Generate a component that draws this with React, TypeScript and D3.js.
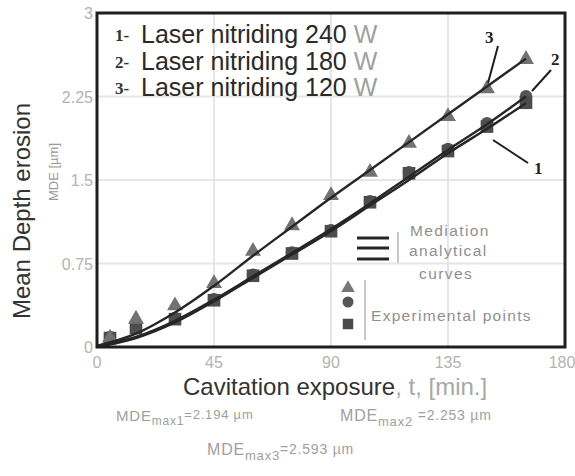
import React from "react";
import * as d3 from "d3";

// Experimental points (cavitation exposure in minutes, MDE in µm)
const minutes = [5, 15, 30, 45, 60, 75, 90, 105, 120, 135, 150, 165];
const mde1 = [0.08, 0.17, 0.25, 0.42, 0.64, 0.84, 1.04, 1.3, 1.56, 1.76, 1.98, 2.194];
const mde2 = [0.09, 0.18, 0.26, 0.43, 0.65, 0.85, 1.05, 1.31, 1.57, 1.78, 2.01, 2.253];
const mde3 = [0.09, 0.26, 0.38, 0.58, 0.87, 1.1, 1.37, 1.58, 1.84, 2.08, 2.33, 2.593];

// Mediation analytical curves
const curveMinutes = [0, 15, 30, 45, 60, 75, 90, 105, 120, 135, 150, 165];
const fit1 = [0.0, 0.08, 0.22, 0.41, 0.62, 0.83, 1.04, 1.27, 1.5, 1.74, 1.96, 2.19];
const fit2 = [0.01, 0.09, 0.235, 0.425, 0.635, 0.845, 1.06, 1.29, 1.53, 1.77, 2.0, 2.25];
const fit3 = [0.01, 0.12, 0.31, 0.55, 0.82, 1.08, 1.34, 1.59, 1.84, 2.09, 2.34, 2.59];

const xTicks = [0, 45, 90, 135, 180];
const yTicks = [0, 0.75, 1.5, 2.25, 3];
const yTickLabels = ["0", "0.75", "1.5", "2.25", "3"];

const seriesNumbers = ["1-", "2-", "3-"];
const seriesPowers = ["240", "180", "120"];
const maxLabels = ["2.194", "2.253", "2.593"];

const W = 575;
const H = 476;

export default function App() {
  const x = d3.scaleLinear().domain([0, 180]).range([97, 565]);
  const y = d3.scaleLinear().domain([0, 3]).range([347, 13]);

  const line = d3
    .line<number>()
    .x((_, i) => x(curveMinutes[i]))
    .y((d) => y(d))
    .curve(d3.curveMonotoneX);

  const tri = d3.symbol().type(d3.symbolTriangle).size(110)()!;
  const sq = d3.symbol().type(d3.symbolSquare).size(160)()!;
  const circ = d3.symbol().type(d3.symbolCircle).size(120)()!;
  const triSmall = d3.symbol().type(d3.symbolTriangle).size(80)()!;
  const sqSmall = d3.symbol().type(d3.symbolSquare).size(110)()!;
  const circSmall = d3.symbol().type(d3.symbolCircle).size(95)()!;

  const sans = "'Liberation Sans', Arial, sans-serif";
  const serif = "'Liberation Serif', 'Times New Roman', serif";
  const tickColor = "#b3b3b3";

  return (
    <svg
      width={W}
      height={H}
      style={{ position: "absolute", left: 0, top: 0, background: "#fff" }}
      fontFamily={sans}
    >
      <rect width={W} height={H} fill="#fff" />

      {/* grid */}
      <g stroke="#e6e6e6" strokeWidth={2}>
        {xTicks.slice(1, -1).map((t) => (
          <line key={"gx" + t} x1={x(t)} x2={x(t)} y1={y(3)} y2={y(0)} />
        ))}
        {yTicks.slice(1, -1).map((t) => (
          <line key={"gy" + t} x1={x(0)} x2={x(180)} y1={y(t)} y2={y(t)} />
        ))}
      </g>

      {/* experimental points */}
      <g fill="#555">
        {minutes.map((m, i) => (
          <path key={"c" + m} d={circ} transform={`translate(${x(m)},${y(mde2[i])})`} />
        ))}
      </g>
      <g fill="#4d4d4d">
        {minutes.map((m, i) => (
          <path key={"s" + m} d={sq} transform={`translate(${x(m)},${y(mde1[i])})`} />
        ))}
      </g>
      <g fill="#727272">
        {minutes.map((m, i) => (
          <path key={"t" + m} d={tri} transform={`translate(${x(m)},${y(mde3[i]) + 1})`} />
        ))}
      </g>

      {/* analytical curves */}
      <g fill="none" stroke="#262626" strokeWidth={2.4}>
        <path d={line(fit1)!} />
        <path d={line(fit2)!} />
        <path d={line(fit3)!} />
      </g>

      {/* frame */}
      <rect
        x={x(0)}
        y={y(3)}
        width={x(180) - x(0)}
        height={y(0) - y(3)}
        fill="none"
        stroke="#1e1e1e"
        strokeWidth={3}
      />

      {/* y ticks */}
      <g fill={tickColor} fontSize={16} textAnchor="end">
        {yTicks.map((t, i) => (
          <text key={"yt" + t} x={x(0) - 4} y={y(t) + 6}>
            {yTickLabels[i]}
          </text>
        ))}
      </g>
      {/* x ticks */}
      <g fill={tickColor} fontSize={16} textAnchor="middle">
        {xTicks.map((t) => (
          <text key={"xt" + t} x={t === 180 ? x(t) - 3 : x(t)} y={y(0) + 21}>
            {t}
          </text>
        ))}
      </g>

      {/* axis titles */}
      <text
        transform="translate(30,211) rotate(-90)"
        textAnchor="middle"
        fontSize={24}
        fill="#333"
      >
        Mean Depth erosion
      </text>
      <text
        transform="translate(58,172) rotate(-90)"
        textAnchor="middle"
        fontSize={13}
        fill="#9a9a9a"
      >
        MDE [µm]
      </text>
      <text x={183} y={395} fontSize={24} fill="#333">
        Cavitation exposure
        <tspan fill="#a8a8a8">, t, [min.]</tspan>
      </text>

      {/* series legend */}
      {seriesNumbers.map((n, i) => (
        <g key={"lg" + i}>
          <text x={115} y={41 + i * 26.5} fontFamily={serif} fontWeight="bold" fontSize={17} fill="#333">
            {n}
          </text>
          <text x={141} y={43 + i * 26.5} fontSize={25} fill="#2a2a2a">
            {`Laser nitriding ${seriesPowers[i]} `}
            <tspan fill="#a0a0a0">W</tspan>
          </text>
        </g>
      ))}

      {/* curve annotations */}
      <g stroke="#1e1e1e" strokeWidth={2}>
        <line x1={498} y1={46} x2={488} y2={83} />
        <line x1={551} y1={70} x2={532} y2={91} />
        <line x1={528} y1={163} x2={493} y2={140} />
      </g>
      <g fontFamily={serif} fontWeight="bold" fontSize={17} fill="#222">
        <text x={485} y={43}>3</text>
        <text x={551} y={65}>2</text>
        <text x={534} y={174}>1</text>
      </g>

      {/* legend: curves and points */}
      <g stroke="#262626" strokeWidth={3}>
        <line x1={357} x2={389} y1={238} y2={238} />
        <line x1={357} x2={389} y1={248} y2={248} />
        <line x1={357} x2={389} y1={259} y2={259} />
      </g>
      <line x1={398} x2={398} y1={232} y2={263} stroke="#c8c8c8" strokeWidth={2} />
      <g fill="#8f8f8f" fontSize={15.5} letterSpacing={1.4}>
        <text x={410} y={236}>Mediation</text>
        <text x={409} y={256}>analytical</text>
        <text x={419} y={279}>curves</text>
      </g>
      <path d={triSmall} transform="translate(348,288)" fill="#777" />
      <path d={circSmall} transform="translate(348,302)" fill="#555" />
      <path d={sqSmall} transform="translate(348,324)" fill="#4a4a4a" />
      <line x1={365} x2={365} y1={280} y2={340} stroke="#c8c8c8" strokeWidth={2} />
      <text x={371} y={321} fontSize={15.5} fill="#8f8f8f" letterSpacing={1.3}>
        Experimental points
      </text>

      {/* maximum depth values */}
      <g fill="#a0a0a0" letterSpacing={0.8}>
        <text x={116} y={421} fontSize={15}>
          MDE
          <tspan fontSize={12} dy={4}>max1</tspan>
          <tspan fontSize={13} dy={-6}>{`=${maxLabels[0]} µm`}</tspan>
        </text>
        <text x={340} y={421} fontSize={16}>
          MDE
          <tspan fontSize={13} dy={5}>max2</tspan>
          <tspan fontSize={14} dy={-6}>{` =${maxLabels[1]} µm`}</tspan>
        </text>
        <text x={207} y={455} fontSize={16}>
          MDE
          <tspan fontSize={13} dy={5}>max3</tspan>
          <tspan fontSize={14} dy={-6}>{`=${maxLabels[2]} µm`}</tspan>
        </text>
      </g>
    </svg>
  );
}
